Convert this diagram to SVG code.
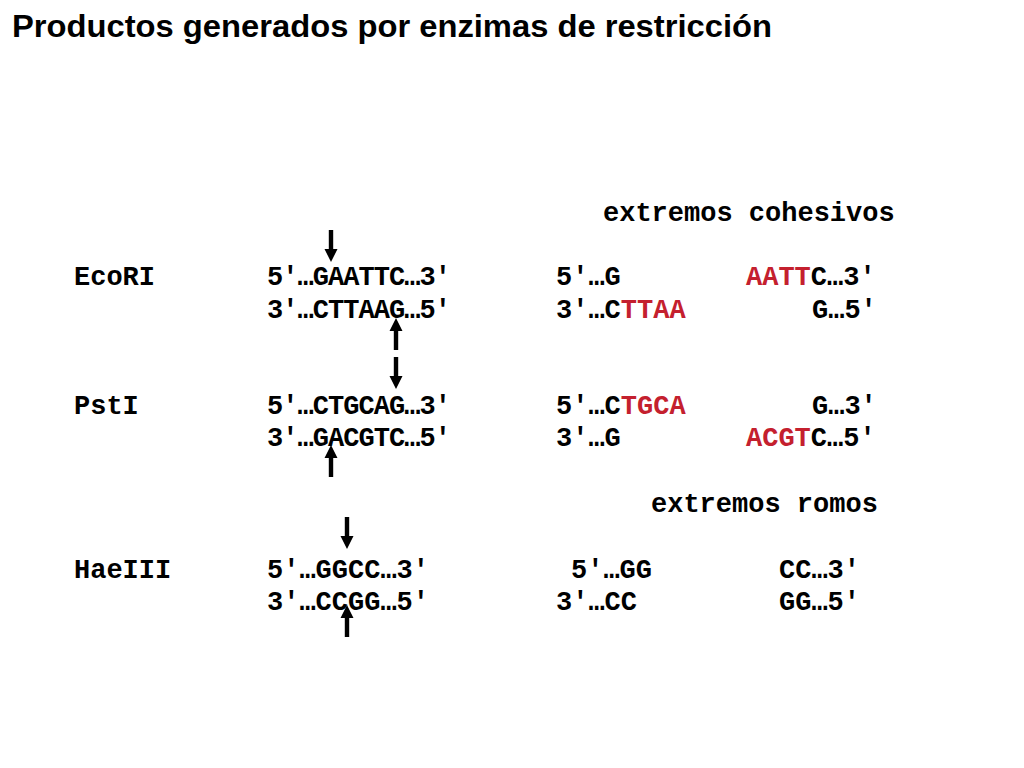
<svg xmlns="http://www.w3.org/2000/svg" xmlns:xlink="http://www.w3.org/1999/xlink" width="1024" height="768" viewBox="0 0 1024 768">
<style>
.t{font-family:"Liberation Sans",Arial,sans-serif;font-weight:bold;font-size:31px;fill:#000}
.m{font-family:"Liberation Mono","Courier New",monospace;font-weight:bold;font-size:27px;fill:#000}
.r{fill:#c4202e}
.ar{fill:#000}
</style>
<defs>
<path id="dn" d="M-2.2,0 H2.2 V19 H6.5 L0,32 L-6.5,19 H-2.2 Z"/>
<path id="up" d="M0,0 L6.5,13 H2.2 V32 H-2.2 V13 H-6.5 Z"/>
</defs>
<rect width="1024" height="768" fill="#fff"/>
<text class="t" x="12" y="37" textLength="760" lengthAdjust="spacingAndGlyphs">Productos generados por enzimas de restricción</text>

<g id="label-cohesivos"><text class="m" x="603" y="221">extremos cohesivos</text></g>

<g id="EcoRI">
<text class="m" x="74" y="285">EcoRI</text>
<text class="m" x="267" y="285" textLength="184">5′…GAATTC…3′</text>
<text class="m" x="267" y="318" textLength="184">3′…CTTAAG…5′</text>
<text class="m" x="556" y="285">5′…G</text>
<text class="m" x="746" y="285"><tspan class="r">AATT</tspan>C…3′</text>
<text class="m" x="556" y="318">3′…C<tspan class="r">TTAA</tspan></text>
<text class="m" x="812" y="318">G…5′</text>
</g>

<g id="PstI">
<text class="m" x="74" y="414">PstI</text>
<text class="m" x="267" y="414" textLength="184">5′…CTGCAG…3′</text>
<text class="m" x="267" y="446" textLength="184">3′…GACGTC…5′</text>
<text class="m" x="556" y="414">5′…C<tspan class="r">TGCA</tspan></text>
<text class="m" x="812" y="414">G…3′</text>
<text class="m" x="556" y="446">3′…G</text>
<text class="m" x="746" y="446"><tspan class="r">ACGT</tspan>C…5′</text>
</g>

<g id="label-romos"><text class="m" x="651" y="512">extremos romos</text></g>

<g id="HaeIII">
<text class="m" x="74" y="578">HaeIII</text>
<text class="m" x="267" y="578">5′…GGCC…3′</text>
<text class="m" x="267" y="610">3′…CCGG…5′</text>
<text class="m" x="571" y="578">5′…GG</text>
<text class="m" x="779" y="578">CC…3′</text>
<text class="m" x="556" y="610">3′…CC</text>
<text class="m" x="779" y="610">GG…5′</text>
</g>

<g id="connectors" class="ar">
<use xlink:href="#dn" x="331" y="230"/>
<use xlink:href="#up" x="396" y="318"/>
<use xlink:href="#dn" x="396" y="357"/>
<use xlink:href="#up" x="331" y="445"/>
<use xlink:href="#dn" x="347" y="517"/>
<use xlink:href="#up" x="347" y="605"/>
</g>
</svg>
